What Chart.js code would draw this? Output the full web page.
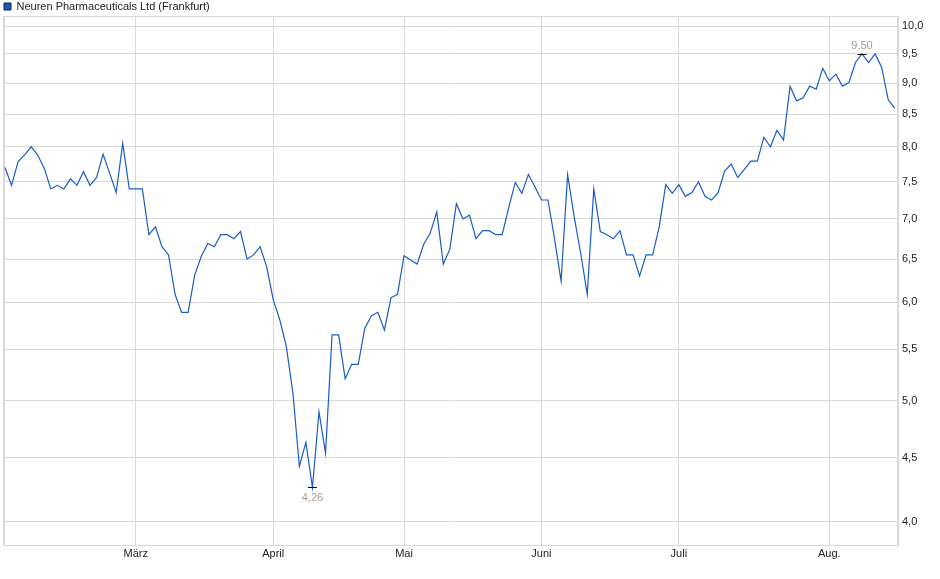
<!DOCTYPE html>
<html>
<head>
<meta charset="utf-8">
<script src="https://cdn.jsdelivr.net/npm/chart.js@4/dist/chart.umd.min.js"></script>
<style>
  html, body { margin: 0; padding: 0; background: #ffffff; }
  #wrap { width: 940px; height: 579px; position: relative; }
</style>
</head>
<body>
<div id="wrap"><canvas id="c"></canvas></div>
<script>
const seriesLabel = 'Neuren Pharmaceuticals Ltd (Frankfurt)';

// closing prices, one per trading day (Feb .. Aug)
const prices = [
  7.70, 7.45, 7.78, 7.88, 8.00, 7.88, 7.69, 7.40, 7.45, 7.40,
  7.54, 7.45, 7.64, 7.45, 7.56, 7.89, 7.62, 7.35, 8.05, 7.40,
  7.40, 7.40, 6.80, 6.90, 6.65, 6.55, 6.09, 5.89, 5.89, 6.31,
  6.53, 6.69, 6.65, 6.80, 6.80, 6.75, 6.84, 6.50, 6.55, 6.65,
  6.41, 6.03, 5.81, 5.53, 5.08, 4.43, 4.63, 4.26, 4.90, 4.54,
  5.65, 5.65, 5.21, 5.35, 5.35, 5.72, 5.85, 5.89, 5.70, 6.05,
  6.09, 6.54, 6.49, 6.44, 6.68, 6.82, 7.09, 6.44, 6.62, 7.20,
  7.00, 7.05, 6.75, 6.85, 6.85, 6.80, 6.80, 7.15, 7.49, 7.34,
  7.60, 7.43, 7.25, 7.25, 6.75, 6.24, 7.60, 7.03, 6.57, 6.09,
  7.40, 6.84, 6.80, 6.75, 6.85, 6.55, 6.55, 6.30, 6.55, 6.55,
  6.90, 7.46, 7.34, 7.46, 7.30, 7.35, 7.50, 7.30, 7.25, 7.35,
  7.65, 7.75, 7.56, 7.67, 7.79, 7.79, 8.14, 8.00, 8.25, 8.10,
  8.95, 8.71, 8.76, 8.95, 8.90, 9.25, 9.04, 9.15, 8.95, 9.01,
  9.35, 9.50, 9.35, 9.50, 9.27, 8.73, 8.59
];

// x-axis month labels and the trading-day index where each month begins
const monthLabels = ['', 'März', 'April', 'Mai', 'Juni', 'Juli', 'Aug.'];
const monthStartIndex = [0, 20, 41, 61, 82, 103, 126];

// y-axis tick values
const yTickValues = [4.0, 4.5, 5.0, 5.5, 6.0, 6.5, 7.0, 7.5, 8.0, 8.5, 9.0, 9.5, 10.0];

const gridColor = '#d9d9d9';
const lineColor = '#1a5cc6';
const fmt = (v, d) => v.toFixed(d).replace('.', ',');

const framePlugin = {
  id: 'frame',
  beforeDatasetsDraw(chart) {
    const { ctx, chartArea: a } = chart;
    ctx.save();
    ctx.strokeStyle = gridColor;
    ctx.lineWidth = 1;
    ctx.strokeRect(Math.round(a.left) + 0.5, Math.round(a.top) + 0.5,
                   Math.round(a.right - a.left) - 1, Math.round(a.bottom - a.top));
    ctx.restore();
  }
};

const legendFitPlugin = {
  id: 'legendFit',
  afterInit(chart) {
    const lg = chart.legend;
    if (lg && !lg._fitPatched) {
      const orig = lg.fit.bind(lg);
      lg.fit = function () { orig(); this.height = 16; };
      lg._fitPatched = true;
    }
  }
};

const extremaPlugin = {
  id: 'extrema',
  afterDatasetsDraw(chart) {
    const { ctx } = chart;
    const xs = chart.scales.x, ys = chart.scales.y;
    let iMax = 0, iMin = 0;
    prices.forEach((v, i) => {
      if (v > prices[iMax]) iMax = i;
      if (v < prices[iMin]) iMin = i;
    });
    ctx.save();
    ctx.font = '11px "Liberation Sans", Arial, sans-serif';
    ctx.textAlign = 'center';
    ctx.textBaseline = 'middle';
    const mark = (i, above) => {
      const px = xs.getPixelForValue(i);
      const py = Math.round(ys.getPixelForValue(prices[i])) + 0.5;
      ctx.strokeStyle = '#000000';
      ctx.lineWidth = 1;
      ctx.beginPath();
      ctx.moveTo(px - 4.5, py);
      ctx.lineTo(px + 4.5, py);
      ctx.stroke();
      ctx.fillStyle = '#a79b90';
      ctx.fillText(fmt(prices[i], 2), px, above ? py - 9 : py + 10.5);
    };
    mark(iMax, true);
    mark(iMin, false);
    ctx.restore();
  }
};

new Chart(document.getElementById('c'), {
  type: 'line',
  data: {
    datasets: [{
      label: seriesLabel,
      data: prices.map((v, i) => ({ x: i, y: v })),
      borderColor: lineColor,
      backgroundColor: '#1f58b8',
      borderWidth: 1.2,
      pointRadius: 0,
      pointHoverRadius: 0,
      tension: 0,
      fill: false
    }]
  },
  options: {
    responsive: true,
    maintainAspectRatio: false,
    animation: false,
    devicePixelRatio: 1,
    layout: { padding: { left: 3, right: 0, top: 0, bottom: 0 } },
    plugins: {
      legend: {
        display: true,
        position: 'top',
        align: 'start',
        labels: {
          boxWidth: 7,
          boxHeight: 7,
          padding: 1,
          color: '#222222',
          font: { size: 11, family: '"Liberation Sans", Arial, sans-serif' },
          generateLabels(chart) {
            return [{
              text: seriesLabel,
              fillStyle: '#1f58b8',
              strokeStyle: '#0d1f4a',
              lineWidth: 1,
              hidden: false,
              datasetIndex: 0,
              fontColor: '#222222'
            }];
          }
        }
      },
      tooltip: { enabled: false }
    },
    scales: {
      x: {
        type: 'linear',
        bounds: 'data',
        min: -0.3,
        max: 136.5,
        afterBuildTicks(scale) {
          scale.ticks = monthStartIndex.map(v => ({ value: v }));
        },
        afterFit(scale) { scale.height = 34; },
        ticks: {
          autoSkip: false,
          maxRotation: 0,
          padding: 2,
          color: '#222222',
          font: { size: 11, family: '"Liberation Sans", Arial, sans-serif' },
          callback(value) {
            const k = monthStartIndex.indexOf(value);
            return k >= 0 ? monthLabels[k] : '';
          }
        },
        grid: { color: gridColor, drawTicks: false, lineWidth: 1 },
        border: { display: true, color: gridColor }
      },
      y: {
        type: 'logarithmic',
        position: 'right',
        bounds: 'data',
        min: 3.83,
        max: 10.19,
        afterBuildTicks(scale) {
          scale.ticks = yTickValues.map(v => ({ value: v }));
        },
        afterFit(scale) { scale.width = 42; },
        ticks: {
          autoSkip: false,
          padding: 4,
          color: '#222222',
          font: { size: 11, family: '"Liberation Sans", Arial, sans-serif' },
          callback(value) { return fmt(value, 1); }
        },
        grid: { color: gridColor, drawTicks: false, lineWidth: 1 },
        border: { display: true, color: gridColor }
      }
    }
  },
  plugins: [legendFitPlugin, framePlugin, extremaPlugin]
});
</script>
</body>
</html>
